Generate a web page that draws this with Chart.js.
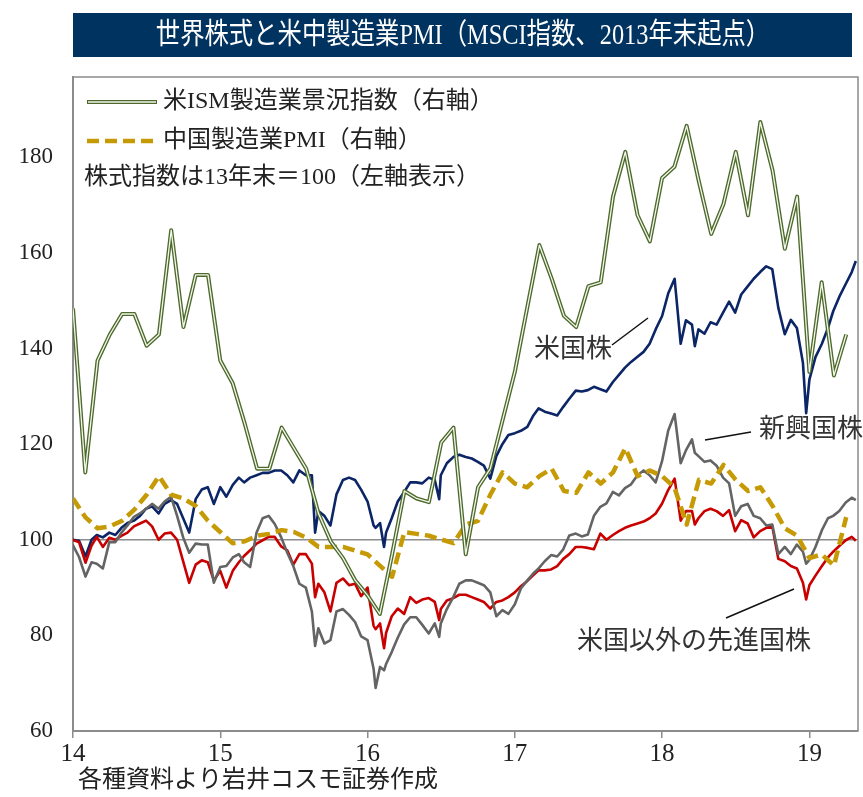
<!DOCTYPE html>
<html>
<head>
<meta charset="utf-8">
<script src="https://cdn.jsdelivr.net/npm/chart.js@4.4.1/dist/chart.umd.min.js"></script>
<style>
  html, body { margin: 0; padding: 0; background: #fff; }
  #wrap { width: 863px; height: 797px; position: relative; }
</style>
</head>
<body>
<div id="wrap"><canvas id="c" width="863" height="797"></canvas></div>
<script>
// 株価指数 (2013年末=100), 半月ごと + 急落日
const stockDates = [
  '2013-12-31','2014-01-16','2014-02-01','2014-02-16','2014-03-01','2014-03-16','2014-04-01','2014-04-16',
  '2014-05-01','2014-05-16','2014-06-01','2014-06-16','2014-07-01','2014-07-16','2014-08-01','2014-08-16',
  '2014-09-01','2014-09-16','2014-10-01','2014-10-16','2014-11-01','2014-11-16','2014-12-01','2014-12-16',
  '2015-01-01','2015-01-16','2015-02-01','2015-02-16','2015-03-01','2015-03-16','2015-04-01','2015-04-16',
  '2015-05-01','2015-05-16','2015-06-01','2015-06-16','2015-07-01','2015-07-16','2015-08-01','2015-08-16',
  '2015-08-24','2015-09-01','2015-09-16','2015-10-01','2015-10-16','2015-11-01','2015-11-16','2015-12-01','2015-12-16',
  '2016-01-01','2016-01-16','2016-01-21','2016-02-01','2016-02-11','2016-02-16','2016-03-01','2016-03-16','2016-04-01',
  '2016-04-16','2016-05-01','2016-05-16','2016-06-01','2016-06-16','2016-06-27','2016-07-01','2016-07-16','2016-08-01',
  '2016-08-16','2016-09-01','2016-09-16','2016-10-01','2016-10-16','2016-11-01','2016-11-16','2016-12-01','2016-12-16',
  '2017-01-01','2017-01-16','2017-02-01','2017-02-16','2017-03-01','2017-03-16','2017-04-01','2017-04-16',
  '2017-05-01','2017-05-16','2017-06-01','2017-06-16','2017-07-01','2017-07-16','2017-08-01','2017-08-16',
  '2017-09-01','2017-09-16','2017-10-01','2017-10-16','2017-11-01','2017-11-16','2017-12-01','2017-12-16',
  '2018-01-01','2018-01-16','2018-02-01','2018-02-16','2018-03-01','2018-03-16','2018-03-23','2018-04-01','2018-04-16',
  '2018-05-01','2018-05-16','2018-06-01','2018-06-16','2018-07-01','2018-07-16','2018-08-01','2018-08-16',
  '2018-09-01','2018-09-16','2018-10-01','2018-10-16','2018-11-01','2018-11-16','2018-12-01','2018-12-16','2018-12-24',
  '2019-01-01','2019-01-16','2019-02-01','2019-02-16','2019-03-01','2019-03-16','2019-04-01','2019-04-16','2019-04-26'
];
const usStocks = [
  100, 99.8, 96.5, 100, 101, 100.5, 101.5, 101, 102.5, 103.5, 104, 105, 106.5, 107, 105.5, 107.5,
  108.3, 107.5, 104.5, 101.5, 108.5, 110.5, 111, 107.5, 111, 109, 111.5, 113, 112, 113, 113.5, 114,
  114, 114.5, 114.5, 113.5, 112, 114.5, 113.5, 113.5,
  101.5, 106, 105, 103, 109.5, 112.5, 113, 112.5, 110.5,
  108, 103, 102.5, 103.5, 98.5, 101.5, 104.5, 108, 110,
  112, 112, 111.8, 113, 112.5, 108.5, 113.5, 116, 117.3,
  117.8, 117.3, 117, 116.3, 115.5, 112.8, 117.5, 120, 121.9,
  122.3, 122.8, 123.6, 126, 127.5, 126.8, 126.4, 126,
  127.8, 129.5, 131.2, 131, 131.3, 132, 131.5, 131,
  133, 134.5, 136, 137.2, 138.3, 139.3, 141, 144,
  146.8, 151.5, 154.6, 141, 145.9, 145, 140.5, 144, 143.1,
  145.5, 145, 147.5, 149.8, 147.5, 151.3, 153, 154.6,
  156, 157.2, 156.6, 148.5, 143, 146, 144.3, 137, 126.5,
  133.5, 138.2, 141, 144.3, 147.8, 150.8, 153.5, 156, 158.3
];
const exUsStocks = [
  100, 99.5, 95.2, 98.8, 100.6, 98.5, 100.4, 100, 100.8, 101.5, 102.8, 103.4, 104, 102.8, 100, 101.3,
  101.5, 100, 95.5, 91, 94.8, 95.7, 95.3, 91.5, 93.5, 90, 93.5, 95.3, 96.6, 97.8, 99.2, 99.9,
  100.6, 100.6, 98.6, 97.8, 94.8, 97, 97, 95,
  88, 90.8, 89, 85, 91, 91.9, 90.5, 90.8, 88.2,
  90, 82, 81.3, 82.5, 77.3, 80.5, 84, 85.6, 84.5,
  88, 86.8, 87.5, 87.8, 87, 83.2, 85.5, 87.3, 87.8,
  88.5, 88.5, 88, 87.5, 87, 85.6, 87, 87.3, 88,
  89, 90.3, 91.4, 92.6, 93.6, 93.6, 93.8, 94.5,
  96, 97, 98.5, 98.5, 98.3, 98, 101.3, 100,
  101, 101.8, 102.5, 103, 103.4, 103.8, 104.5, 105.5,
  107.6, 110.4, 112.8, 104, 106, 106, 103.2, 104.5, 106,
  106.5, 106, 105, 106.2, 101.8, 104.1, 103.4, 100.5,
  101.8, 102.5, 102.8, 96, 95.5, 94.5, 94, 91, 87.5,
  90.5, 92.5, 94.5, 96.3, 97.5, 98.7, 99.9, 100.6, 99.8
];
const emStocks = [
  99, 96.4, 92.3, 95.3, 95, 94, 99.5, 99.5, 101.5, 103, 104.8, 105.5, 106.5, 107.5, 106.5, 108,
  109, 105, 100.5, 97.3, 99.2, 99, 99, 91, 94.3, 94.5, 96.3, 97, 95.3, 94.3, 101.5, 104.5,
  105, 103.3, 100.5, 97.3, 94.5, 90.8, 90, 85,
  77.8, 81.5, 78.3, 79, 85, 85.5, 84.3, 82.8, 79.8,
  79, 73, 69, 73.4, 72.7, 74, 76.5, 79.5, 82.3,
  83.8, 83.8, 82.2, 80.4, 82.5, 79.7, 82.5, 85.5, 88,
  90.8, 91.5, 91.5, 91, 90.5, 89, 84, 85.3, 84.5,
  86.5, 89.8, 91.5, 93, 94, 95.5, 96.8, 96.5,
  98, 100.9, 101.3, 100.7, 101.1, 105, 106.9, 107.6,
  110, 109.3, 110.8, 111.6, 113.5, 114.5, 113.5, 112,
  116.5, 122.8, 126.3, 116, 118.7, 121, 118.2, 117.5, 116.3,
  116.6, 115.5, 113, 111.8, 105, 107, 107.5, 105,
  104.5, 103, 103.2, 97, 98.5, 97, 99, 97.5, 95,
  95.8, 98.5, 102, 104.5, 105, 106, 107.8, 108.8, 108.3
];

// 製造業PMI (月次, 2013年12月〜2019年3月, 右軸)
const pmiFirstMonth = '2013-12';
const ismPmi = [
  56.2,
  51.8, 54.8, 55.5, 56.05, 56.05, 55.2, 55.5, 58.3, 55.7, 57.1, 57.1, 54.8,
  54.2, 53.1, 51.9, 51.9, 53.0, 52.45, 51.9, 50.7, 49.95, 49.5, 48.9, 48.5,
  48.0, 49.6, 51.3, 51.1, 51.0, 52.6, 53.0, 49.6, 51.4, 51.9, 53.2, 54.5,
  56.2, 57.9, 57.0, 56.0, 55.7, 56.8, 56.9, 59.2, 60.4, 58.7, 58.0, 59.7,
  60.0, 61.1, 59.6, 58.2, 59.0, 60.4, 58.7, 61.2, 59.9, 57.8, 59.2, 54.5,
  56.9, 54.4, 55.5
];
const chinaPmi = [
  51.1,
  50.6, 50.3, 50.35, 50.5, 50.8, 51.2, 51.7, 51.2, 51.1, 50.9, 50.5, 50.2,
  49.9, 49.95, 50.1, 50.15, 50.25, 50.2, 50.05, 49.8, 49.8, 49.8, 49.7, 49.6,
  49.3, 49.0, 50.2, 50.15, 50.1, 50.0, 49.9, 50.4, 50.5, 51.2, 51.8, 51.5,
  51.4, 51.7, 51.9, 51.3, 51.25, 51.8, 51.5, 51.8, 52.45, 51.7, 51.85, 51.7,
  51.4, 50.4, 51.6, 51.5, 52.0, 51.6, 51.3, 51.4, 50.9, 50.3, 50.1, 49.5,
  49.6, 49.3, 50.6
];

// 目盛り
const xTickYears = [2014, 2015, 2016, 2017, 2018, 2019];
const yTickValues = [60, 80, 100, 120, 140, 160, 180];

const FONT = '"Liberation Serif", "Noto Sans CJK JP", serif';
const JFONT = '"Liberation Serif", "Noto Sans CJK JP", sans-serif';
const titleText = '世界株式と米中製造業PMI（MSCI指数、2013年末起点）';
const legendIsm = '米ISM製造業景況指数（右軸）';
const legendChina = '中国製造業PMI（右軸）';
const legendNote = '株式指数は13年末＝100（左軸表示）';
const sourceNote = '各種資料より岩井コスモ証券作成';

const colors = { us: '#0b2566', exUs: '#c80000', em: '#646464', china: '#c59a05', ismDark: '#4d6a2c', ismLight: '#f3f7ec' };

function toYear(s) {
  const [y, m, d] = s.split('-').map(Number);
  const start = Date.UTC(y, 0, 1), end = Date.UTC(y + 1, 0, 1);
  return y + (Date.UTC(y, m - 1, d) - start) / (end - start);
}
function monthEnd(first, k) {
  const [y, m] = first.split('-').map(Number);
  return y + (m + k) / 12;
}

const stockX = stockDates.map(toYear);
const toPoints = (xs, ys) => ys.map((v, i) => ({ x: xs[i], y: v }));
const pmiX = ismPmi.map((_, k) => monthEnd(pmiFirstMonth, k));

const decor = {
  id: 'decor',
  beforeDraw(chart) {
    const c = chart.ctx;
    c.save();
    c.fillStyle = '#fff';
    c.fillRect(0, 0, chart.width, chart.height);
    c.restore();
  },
  afterDraw(chart) {
    const c = chart.ctx, a = chart.chartArea;
    c.save();
    // タイトル帯
    c.fillStyle = '#00335f';
    c.fillRect(73, 13, 779, 44);
    c.save();
    c.translate(463, 36);
    c.scale(0.84, 1);
    c.fillStyle = '#fff';
    c.font = '29px ' + JFONT;
    c.textAlign = 'center';
    c.textBaseline = 'middle';
    c.fillText(titleText, 0, 0);
    c.restore();

    // 枠
    c.strokeStyle = '#8c8c8c';
    c.lineWidth = 1.5;
    c.beginPath();
    c.moveTo(a.left, a.top);
    c.lineTo(a.right, a.top);
    c.lineTo(a.right, a.bottom);
    c.stroke();

    // 凡例
    c.font = '24px ' + JFONT;
    c.fillStyle = '#222';
    c.textBaseline = 'middle';
    c.textAlign = 'left';
    c.lineCap = 'butt';
    c.strokeStyle = colors.ismDark; c.lineWidth = 4;
    c.beginPath(); c.moveTo(87, 102); c.lineTo(157, 102); c.stroke();
    c.strokeStyle = colors.ismLight; c.lineWidth = 1.3;
    c.beginPath(); c.moveTo(88, 102); c.lineTo(156, 102); c.stroke();
    c.fillText(legendIsm, 163, 102);
    c.strokeStyle = colors.china; c.lineWidth = 4.5;
    c.setLineDash([12, 6]);
    c.beginPath(); c.moveTo(87, 141); c.lineTo(157, 141); c.stroke();
    c.setLineDash([]);
    c.fillText(legendChina, 163, 141);
    c.fillText(legendNote, 84, 178);

    // 系列名
    c.font = '26px ' + JFONT;
    c.fillStyle = '#333';
    c.fillText('米国株', 534, 350);
    c.fillText('新興国株', 759, 430);
    c.fillText('米国以外の先進国株', 577, 642);
    c.strokeStyle = '#111'; c.lineWidth = 1.5;
    c.beginPath();
    c.moveTo(612, 345); c.lineTo(648, 318);
    c.moveTo(705, 440); c.lineTo(751, 432);
    c.moveTo(726, 618); c.lineTo(794, 589);
    c.stroke();

    // 出所
    c.font = '24px ' + JFONT;
    c.fillStyle = '#222';
    c.fillText(sourceNote, 78, 781);
    c.restore();
  }
};

new Chart(document.getElementById('c'), {
  type: 'line',
  data: {
    datasets: [
      { data: toPoints(pmiX, ismPmi), yAxisID: 'y2', borderColor: colors.ismLight, borderWidth: 1.3 },
      { data: toPoints(pmiX, ismPmi), yAxisID: 'y2', borderColor: colors.ismDark, borderWidth: 4 },
      { data: toPoints(pmiX, chinaPmi), yAxisID: 'y2', borderColor: colors.china, borderWidth: 4.5, borderDash: [12, 6] },
      { data: toPoints(stockX, emStocks), yAxisID: 'y', borderColor: colors.em, borderWidth: 2.6 },
      { data: toPoints(stockX, exUsStocks), yAxisID: 'y', borderColor: colors.exUs, borderWidth: 2.6 },
      { data: toPoints(stockX, usStocks), yAxisID: 'y', borderColor: colors.us, borderWidth: 2.6 }
    ]
  },
  options: {
    responsive: false,
    animation: false,
    devicePixelRatio: 1,
    layout: { padding: { top: 77, right: 5, left: 0, bottom: 0 } },
    elements: { point: { radius: 0 }, line: { tension: 0, borderJoinStyle: 'round' } },
    plugins: { legend: { display: false }, tooltip: { enabled: false } },
    scales: {
      x: {
        type: 'linear',
        min: 2014,
        max: 2019.33,
        afterBuildTicks: s => { s.ticks = xTickYears.map(v => ({ value: v })); },
        afterFit: s => { s.height = 66; },
        ticks: {
          autoSkip: false,
          maxRotation: 0,
          padding: 1,
          color: '#222',
          font: { family: FONT, size: 25 },
          callback: v => String(Math.round(v) - 2000)
        },
        grid: { drawOnChartArea: false, drawTicks: true, tickLength: 7, color: '#8c8c8c', lineWidth: 1.5 },
        border: { display: true, color: '#8c8c8c', width: 2 }
      },
      y: {
        position: 'left',
        min: 60,
        max: 196.8,
        afterBuildTicks: s => { s.ticks = yTickValues.map(v => ({ value: v })); },
        afterFit: s => { s.width = 73; },
        ticks: { padding: 20, color: '#222', font: { family: FONT, size: 23 } },
        grid: {
          drawTicks: false,
          lineWidth: 1.5,
          color: c => (c.tick && c.tick.value === 100 ? '#8c8c8c' : 'rgba(0,0,0,0)')
        },
        border: { display: true, color: '#8c8c8c', width: 2 }
      },
      y2: { display: false, min: 44.86, max: 62.41 }
    }
  },
  plugins: [decor]
});
</script>
</body>
</html>
